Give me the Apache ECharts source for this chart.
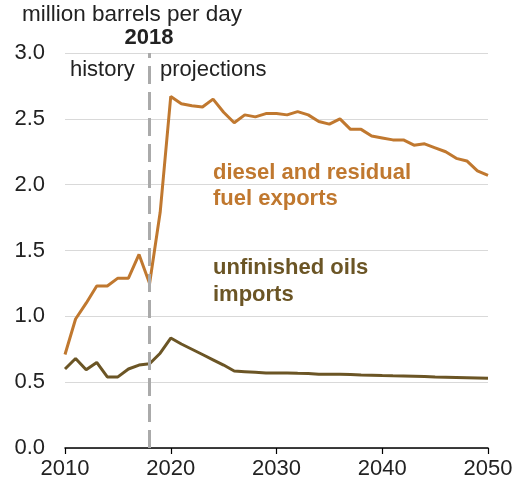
<!DOCTYPE html>
<html>
<head>
<meta charset="utf-8">
<script src="https://cdn.jsdelivr.net/npm/echarts@6/dist/echarts.min.js"></script>
<style>html,body{margin:0;padding:0;background:#fff}#c{width:518px;height:489px}</style>
</head>
<body>
<div id="c"></div>
<script>
var years = [2010,2011,2012,2013,2014,2015,2016,2017,2018,2019,2020,2021,2022,2023,2024,2025,2026,2027,2028,2029,2030,2031,2032,2033,2034,2035,2036,2037,2038,2039,2040,2041,2042,2043,2044,2045,2046,2047,2048,2049,2050];
var dieselExports = [0.71,0.98,1.10,1.23,1.23,1.29,1.29,1.47,1.25,1.79,2.67,2.615,2.60,2.59,2.65,2.55,2.47,2.53,2.515,2.54,2.54,2.53,2.555,2.53,2.48,2.46,2.50,2.42,2.42,2.37,2.355,2.34,2.34,2.30,2.31,2.28,2.25,2.20,2.18,2.105,2.07];
var unfinishedImports = [0.60,0.68,0.595,0.65,0.54,0.54,0.60,0.63,0.64,0.72,0.835,0.79,0.75,0.71,0.67,0.63,0.585,0.58,0.575,0.57,0.57,0.57,0.567,0.565,0.56,0.56,0.56,0.558,0.555,0.553,0.55,0.548,0.547,0.545,0.543,0.54,0.538,0.536,0.534,0.532,0.53];
var yTicks = [0,0.5,1,1.5,2,2.5,3];
var xTicks = [2010,2020,2030,2040,2050];
var splitYear = 2018;

var ORANGE = '#C0782F', OLIVE = '#6B5525';
var FONT = 'Liberation Sans, Arial, sans-serif';

function pairs(v){ return years.map(function(y,i){ return [y, v[i]]; }); }

var chart = echarts.init(document.getElementById('c'));
chart.setOption({
  animation:false,
  grid:{left:65,right:30,top:53,bottom:41},
  xAxis:{type:'value',min:xTicks[0],max:xTicks[xTicks.length-1],interval:10,
    axisLine:{show:true,lineStyle:{color:'#000',width:1.5}},
    axisTick:{show:true,length:6,lineStyle:{color:'#000',width:1.2}},
    axisLabel:{fontFamily:FONT,fontSize:22,color:'#222',margin:10,formatter:function(v){return String(v);}},
    splitLine:{show:false}},
  yAxis:{type:'value',min:yTicks[0],max:yTicks[yTicks.length-1],interval:0.5,
    axisLine:{show:false},axisTick:{show:false},
    axisLabel:{fontFamily:FONT,fontSize:22,color:'#222',margin:20,formatter:function(v){return v.toFixed(1);}},
    splitLine:{lineStyle:{color:'#d9d9d9',width:1.2}}},
  series:[
    {type:'line',data:pairs(dieselExports),symbol:'none',lineStyle:{color:ORANGE,width:3},z:3,
     markLine:{silent:true,symbol:'none',label:{show:false},
       lineStyle:{color:'#aaaaaa',type:[18,8],width:3},
       data:[{xAxis:splitYear}]}},
    {type:'line',data:pairs(unfinishedImports),symbol:'none',lineStyle:{color:OLIVE,width:3},z:3}
  ],
  graphic:[
    {type:'text',left:22,top:3,style:{text:'million barrels per day',font:'22.5px '+FONT,fill:'#222'}},
    {type:'text',x:149,y:38,style:{text:'2018',font:'bold 22px '+FONT,fill:'#222',textAlign:'center',textVerticalAlign:'middle'}},
    {type:'text',x:70,y:70,style:{text:'history',font:'22px '+FONT,fill:'#222',textVerticalAlign:'middle'}},
    {type:'text',x:160,y:70,style:{text:'projections',font:'22px '+FONT,fill:'#222',textVerticalAlign:'middle'}},
    {type:'text',x:213,y:173,style:{text:'diesel and residual',font:'bold 22px '+FONT,fill:ORANGE,textVerticalAlign:'middle'}},
    {type:'text',x:213,y:199,style:{text:'fuel exports',font:'bold 22px '+FONT,fill:ORANGE,textVerticalAlign:'middle'}},
    {type:'text',x:213,y:268,style:{text:'unfinished oils',font:'bold 22px '+FONT,fill:OLIVE,textVerticalAlign:'middle'}},
    {type:'text',x:213,y:295,style:{text:'imports',font:'bold 22px '+FONT,fill:OLIVE,textVerticalAlign:'middle'}}
  ]
});
</script>
</body>
</html>
